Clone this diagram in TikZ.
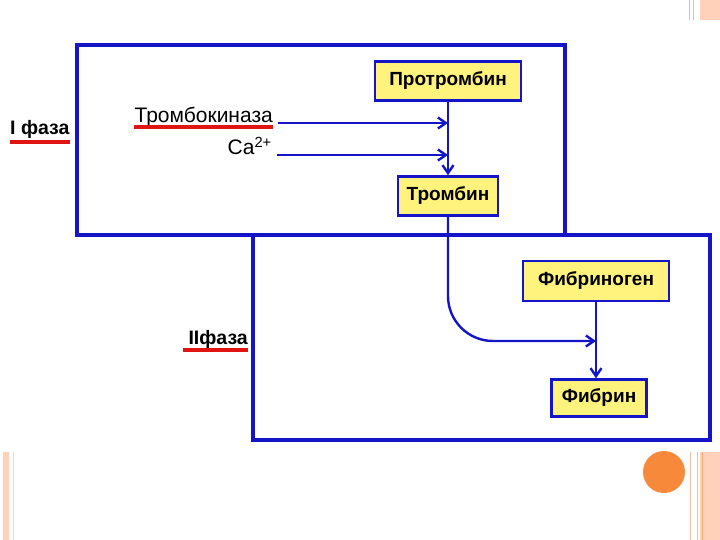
\documentclass[tikz,border=0pt]{standalone}
\usepackage{fontspec}
\setmainfont{Liberation Sans}
\usetikzlibrary{arrows.meta, positioning}
\definecolor{frameblue}{RGB}{20,20,200}
\definecolor{boxyellow}{RGB}{255,242,125}
\definecolor{underred}{RGB}{225,20,20}
\definecolor{peach}{RGB}{255,208,186}
\definecolor{tan}{RGB}{235,190,160}
\definecolor{dot}{RGB}{247,138,58}

\begin{document}
\begin{tikzpicture}[
            x=1pt, y=-1pt,                     % coordenadas en pixeles
            frame/.style={
                draw=frameblue,
                line width=3.2pt
            },
            block/.style={
                rectangle,
                draw=frameblue,
                line width=2.5pt,
                fill=boxyellow,
                inner sep=0pt,
                minimum height=39pt,
                font=\fontsize{19}{22}\selectfont\bfseries
            },
            lbl/.style={
                inner sep=0pt,
                font=\fontsize{21}{24}\selectfont
            },
            line/.style={
                draw=frameblue,
                line width=2.4pt,
                -{Straight Barb[length=8pt, width=11pt]}
            },
            uline/.style={
                draw=underred,
                line width=3.5pt
            }
        ]
            \useasboundingbox (0,0) rectangle (720,540);

            % --- DECORACION ---
            \fill[peach] (700,0) rectangle (720,20);
            \draw[tan, line width=1pt] (689,0) -- (689,20) (693,0) -- (693,20);
            \fill[peach] (700,452) rectangle (720,540);
            \draw[tan, line width=1pt] (690,452) -- (690,540) (697,452) -- (697,540);
            \draw[dot!70, line width=1pt] (702,452) -- (702,540);
            \fill[peach] (3,452) rectangle (9,540);
            \draw[tan!60, line width=0.8pt] (13,452) -- (13,540);
            \fill[dot] (664,472) circle (21);

            % --- MARCOS DE FASES ---
            \draw[frame] (77,45) rectangle (565,235);
            \draw[frame] (253,235) rectangle (710,440);

            % --- NODOS ---
            \node [block, minimum width=146pt] (prot) at (448,81) {Протромбин};
            \node [block, minimum width=100pt] (thr) at (448,196) {Тромбин};
            \node [block, minimum width=146pt, minimum height=40pt] (fibg) at (596,281) {Фибриноген};
            \node [block, minimum width=95pt, minimum height=37pt] (fibr) at (599,398) {Фибрин};

            \node [lbl, font=\fontsize{19.5}{24}\selectfont\bfseries, anchor=base west] (ph1) at (10,135) {I фаза};
            \node [lbl, anchor=base east] (tk) at (273,123) {Тромбокиназа};
            \node [lbl, anchor=base east] (ca) at (272,155) {Ca\textsuperscript{2+}};
            \node [lbl, font=\fontsize{19.5}{24}\selectfont\bfseries, anchor=base east] (ph2) at (248,344) {IIфаза};
            \coordinate (meet) at (596,341);

            % --- SUBRAYADOS ---
            \path [uline] ([yshift=-7pt]ph1.base west) -- ([yshift=-7pt]ph1.base east);
            \path [uline] ([yshift=-4pt]tk.base west) -- ([yshift=-4pt]tk.base east);
            \path [uline] ([shift={(-5pt,-6pt)}]ph2.base west) -- ([yshift=-6pt]ph2.base east);

            % --- ENLACES ---
            \path [line] (prot.south) -- (thr.north);
            \path [line] ([xshift=5pt]tk.base east) -- (tk.base east -| prot.south);
            \path [line] ([xshift=5pt]ca.base east) -- (ca.base east -| prot.south);
            \path [line, rounded corners=45pt] (thr.south) |- (meet);
            \path [line] (fibg.south) -- (fibg.south |- fibr.north);
        \end{tikzpicture}
\end{document}
